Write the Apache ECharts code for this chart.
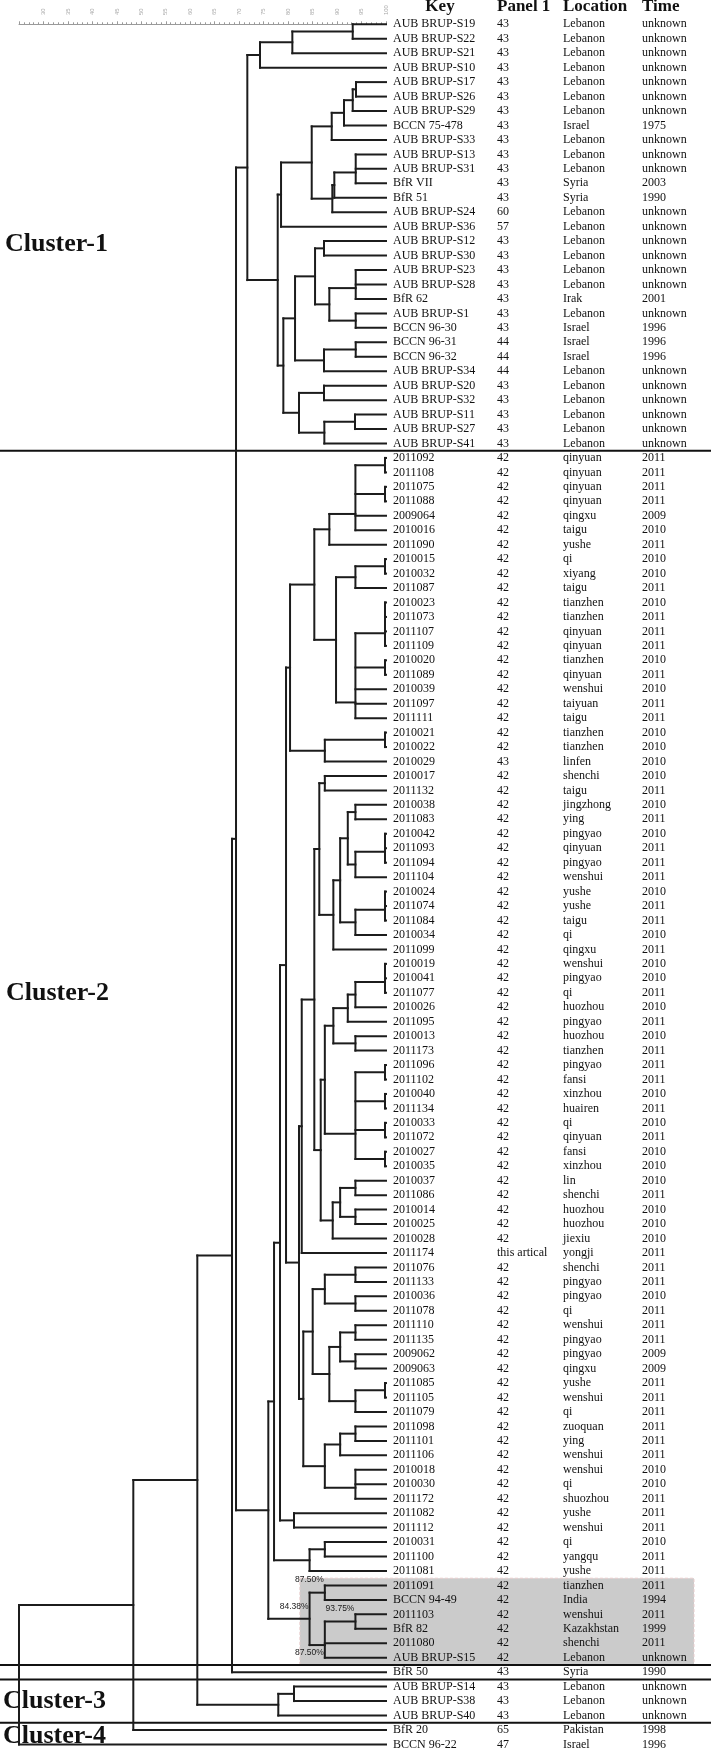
<!DOCTYPE html>
<html><head><meta charset="utf-8">
<script src="https://cdn.jsdelivr.net/npm/echarts@6/dist/echarts.min.js"></script>
<style>html,body{margin:0;padding:0;background:#fff}#c{width:711px;height:1749px}</style>
</head><body><div id="c"></div>
<script>
// ---------------- DATA ----------------
const keys = ['AUB BRUP-S19','AUB BRUP-S22','AUB BRUP-S21','AUB BRUP-S10','AUB BRUP-S17','AUB BRUP-S26','AUB BRUP-S29','BCCN 75-478','AUB BRUP-S33','AUB BRUP-S13',
'AUB BRUP-S31','BfR VII','BfR 51','AUB BRUP-S24','AUB BRUP-S36','AUB BRUP-S12','AUB BRUP-S30','AUB BRUP-S23','AUB BRUP-S28','BfR 62',
'AUB BRUP-S1','BCCN 96-30','BCCN 96-31','BCCN 96-32','AUB BRUP-S34','AUB BRUP-S20','AUB BRUP-S32','AUB BRUP-S11','AUB BRUP-S27','AUB BRUP-S41',
'2011092','2011108','2011075','2011088','2009064','2010016','2011090','2010015','2010032','2011087',
'2010023','2011073','2011107','2011109','2010020','2011089','2010039','2011097','2011111','2010021',
'2010022','2010029','2010017','2011132','2010038','2011083','2010042','2011093','2011094','2011104',
'2010024','2011074','2011084','2010034','2011099','2010019','2010041','2011077','2010026','2011095',
'2010013','2011173','2011096','2011102','2010040','2011134','2010033','2011072','2010027','2010035',
'2010037','2011086','2010014','2010025','2010028','2011174','2011076','2011133','2010036','2011078',
'2011110','2011135','2009062','2009063','2011085','2011105','2011079','2011098','2011101','2011106',
'2010018','2010030','2011172','2011082','2011112','2010031','2011100','2011081','2011091','BCCN 94-49',
'2011103','BfR 82','2011080','AUB BRUP-S15','BfR 50','AUB BRUP-S14','AUB BRUP-S38','AUB BRUP-S40','BfR 20','BCCN 96-22'];

const panel1 = ['43','43','43','43','43','43','43','43','43','43',
'43','43','43','60','57','43','43','43','43','43',
'43','43','44','44','44','43','43','43','43','43',
'42','42','42','42','42','42','42','42','42','42',
'42','42','42','42','42','42','42','42','42','42',
'42','43','42','42','42','42','42','42','42','42',
'42','42','42','42','42','42','42','42','42','42',
'42','42','42','42','42','42','42','42','42','42',
'42','42','42','42','42','this artical','42','42','42','42',
'42','42','42','42','42','42','42','42','42','42',
'42','42','42','42','42','42','42','42','42','42',
'42','42','42','42','43','43','43','43','65','47'];

const locations = ['Lebanon','Lebanon','Lebanon','Lebanon','Lebanon','Lebanon','Lebanon','Israel','Lebanon','Lebanon',
'Lebanon','Syria','Syria','Lebanon','Lebanon','Lebanon','Lebanon','Lebanon','Lebanon','Irak',
'Lebanon','Israel','Israel','Israel','Lebanon','Lebanon','Lebanon','Lebanon','Lebanon','Lebanon',
'qinyuan','qinyuan','qinyuan','qinyuan','qingxu','taigu','yushe','qi','xiyang','taigu',
'tianzhen','tianzhen','qinyuan','qinyuan','tianzhen','qinyuan','wenshui','taiyuan','taigu','tianzhen',
'tianzhen','linfen','shenchi','taigu','jingzhong','ying','pingyao','qinyuan','pingyao','wenshui',
'yushe','yushe','taigu','qi','qingxu','wenshui','pingyao','qi','huozhou','pingyao',
'huozhou','tianzhen','pingyao','fansi','xinzhou','huairen','qi','qinyuan','fansi','xinzhou',
'lin','shenchi','huozhou','huozhou','jiexiu','yongji','shenchi','pingyao','pingyao','qi',
'wenshui','pingyao','pingyao','qingxu','yushe','wenshui','qi','zuoquan','ying','wenshui',
'wenshui','qi','shuozhou','yushe','wenshui','qi','yangqu','yushe','tianzhen','India',
'wenshui','Kazakhstan','shenchi','Lebanon','Syria','Lebanon','Lebanon','Lebanon','Pakistan','Israel'];

const times = ['unknown','unknown','unknown','unknown','unknown','unknown','unknown','1975','unknown','unknown',
'unknown','2003','1990','unknown','unknown','unknown','unknown','unknown','unknown','2001',
'unknown','1996','1996','1996','unknown','unknown','unknown','unknown','unknown','unknown',
'2011','2011','2011','2011','2009','2010','2011','2010','2010','2011',
'2010','2011','2011','2011','2010','2011','2010','2011','2011','2010',
'2010','2010','2010','2011','2010','2011','2010','2011','2011','2011',
'2010','2011','2011','2010','2011','2010','2010','2011','2010','2011',
'2010','2011','2011','2011','2010','2011','2010','2011','2010','2010',
'2010','2011','2010','2010','2010','2011','2011','2011','2010','2011',
'2011','2011','2009','2009','2011','2011','2011','2011','2011','2011',
'2010','2010','2011','2011','2011','2010','2011','2011','2011','1994',
'2011','1999','2011','unknown','1990','unknown','unknown','unknown','1998','1996'];

// dendrogram merges: [node id, similarity %, children (leaf row index or node id)]
const merges = [
 ['a',93.2,[0,1]], ['b',80.86,['a',2]], ['c',74.25,['b',3]],
 ['d',93.87,[4,5]], ['e',93.2,['d',6]], ['f',91.42,['e',7]], ['g',88.91,['f',8]],
 ['h',93.81,[9,10,11]], ['i',89.44,['h',12]], ['j',89.03,['i',13]],
 ['k',84.82,['g','j']], ['l',78.55,['k',14]],
 ['n15',87.33,[15,16]], ['n17',93.81,[17,18,19]], ['n20',93.81,[20,21]],
 ['n329',88.42,['n17','n20']], ['n315',85.5,['n15','n329']],
 ['n22',93.81,[22,23]], ['n24',87.33,['n22',24]], ['n295',81.41,['n315','n24']],
 ['n25',87.33,[25,26]], ['n27',93.67,[27,28]], ['n29',87.4,['n27',29]],
 ['n299',82.22,['n25','n29']], ['X',79.02,['n295','n299']],
 ['m',77.87,['l','X']], ['N1',71.66,['c','m']],
 ['p30',99.8,[30,31]], ['p32',99.8,[32,33]], ['p34',93.75,['p30','p32',34,35]],
 ['A2',88.42,['p34',36]], ['p37',99.8,[37,38]], ['p39',93.75,['p37',39]],
 ['p40',99.8,[40,41,42,43]], ['p44',99.8,[44,45]], ['p46',93.75,['p40','p44',46,47,48]],
 ['p336',89.79,['p39','p46']], ['p314',85.35,['A2','p336']],
 ['p49',99.8,[49,50]], ['p51',87.5,['p49',51]], ['Z',80.39,['p314','p51']],
 ['q52',87.5,[52,53]], ['q54',93.75,[54,55]], ['q56',99.8,[56,57,58]], ['q59',93.75,['q56',59]],
 ['q443',92.19,['q54','q59']], ['q60',99.8,[60,61,62]], ['q63',93.75,['q60',63]],
 ['q420',90.63,['q443','q63']], ['q400',89.24,['q420',64]], ['q358',86.37,['q52','q400']],
 ['s65',99.8,[65,66,67]], ['s68',93.75,['s65',68]], ['s69',92.19,['s68',69]],
 ['s70',93.75,[70,71]], ['s400',89.24,['s69','s70']],
 ['s72',99.8,[72,73]], ['s74',99.8,[74,75]], ['s76',99.8,[76,77]], ['s78',99.8,[78,79]],
 ['s465',93.75,['s72','s74','s76','s78']], ['s373',87.5,['s400','s465']],
 ['s80',93.75,[80,81]], ['s82',93.75,[82,83]], ['s420',90.63,['s80','s82']],
 ['s398',89.11,['s420',84]], ['s362',86.66,['s373','s398']],
 ['t343',85.35,['q358','s362']], ['t305',82.78,['t343',85]],
 ['u86',93.75,[86,87]], ['u88',93.75,[88,89]], ['u373',87.5,['u86','u88']],
 ['u90',93.75,[90,91]], ['u92',93.75,[92,93]], ['u420',90.63,['u90','u92']],
 ['u94',99.8,[94,95]], ['u96',93.75,['u94',96]], ['u388',88.42,['u420','u96']],
 ['u338',85.02,['u373','u388']], ['u97',93.75,[97,98]], ['u99',90.63,['u97',99]],
 ['u100',93.75,[100,101,102]], ['u373b',87.5,['u99','u100']], ['u310',83.1,['u338','u373b']],
 ['AA',82.22,['t305','u310']], ['Y',79.57,['Z','AA']],
 ['w103',81.2,[103,104]], ['W',78.34,['Y','w103']],
 ['x105',87.5,[105,106]], ['X3',84.38,['x105',107]], ['V',77.12,['W','X3']],
 ['h108',87.5,[108,109]], ['h110',93.75,[110,111]], ['h112',87.5,['h110',112,113]],
 ['HL',84.38,['h108','h112']], ['U',75.95,['V','HL']],
 ['T',69.35,['N1','U']], ['S',68.53,['T',114]],
 ['c115',81.2,[115,116]], ['C3',77.99,['c115',117]],
 ['R',61.44,['S','C3']], ['Q',48.36,['R',118]], ['root',25,['Q',119]]
];

const nodeLabels = [['h108','87.50%'],['HL','84.38%'],['h110','93.75%'],['h112','87.50%']];
const clusterRows = [[0,29],[30,113],[114,114],[115,117],[118,119]];
const clusterNames = ['Cluster-1','Cluster-2','Cluster-3','Cluster-4'];
const highlightRows = [108,113];
const headers = ['Key','Panel 1','Location','Time'];

// ---------------- BUILD ----------------
// label placement style: anchor & pixel offset
const labelStyle = {h108:['top',-1], HL:['mid',-8], h110:['top',-1], h112:['bottom',-1]};
const pos = {};
const segs = [];
function getPos(k){ return typeof k === 'number' ? {x:100, y:k, top:k, bot:k} : pos[k]; }
merges.forEach(([id, sim, kids]) => {
  const ch = kids.map(getPos);
  ch.forEach(c => segs.push([sim, c.y, c.x, c.y]));
  const ys = ch.map(c => c.y);
  let mid = ys[0];
  for (let i = 1; i < ys.length; i++) mid = (mid + ys[i]) / 2;
  const top = Math.min(...ys), bot = Math.max(...ys);
  segs.push([sim, top, sim, bot]);
  pos[id] = {x: sim, y: mid, top, bot};
});
const labelData = nodeLabels.map(([id, txt], i) => {
  const p = pos[id]; const st = labelStyle[id];
  const yy = st[0] === 'top' ? p.top : st[0] === 'bottom' ? p.bot : p.y;
  return [p.x, yy, i];
});
const rows = keys.map((k, i) => [100, i]);
const boundaries = [];
for (let i = 1; i < clusterRows.length; i++) boundaries.push([25, (clusterRows[i-1][1] + clusterRows[i][0]) / 2]);

const SERIF = '"Liberation Serif","Times New Roman",serif';
const chart = echarts.init(document.getElementById('c'));

const option = {
  animation: false,
  backgroundColor: '#ffffff',
  grid: {left: 19, width: 367, top: 17.07, height: 1727.37},
  xAxis: {
    type: 'value', position: 'top', min: 25, max: 100, interval: 5,
    axisLine: {show: true, lineStyle: {color: '#9a9a9a', width: 1}},
    axisTick: {show: true, length: 3, lineStyle: {color: '#9a9a9a'}},
    minorTick: {show: true, splitNumber: 5, length: 2, lineStyle: {color: '#9a9a9a'}},
    axisLabel: {rotate: 90, fontSize: 6, color: '#aaaaaa', margin: 2,
      formatter: v => (v === 25 ? '' : String(v))},
    splitLine: {show: false}
  },
  yAxis: {type: 'value', inverse: true, min: -0.5, max: 119, show: false},
  series: [
    { // highlight box
      type: 'custom', clip: false, z: 1,
      data: [[82.4, highlightRows[0] - 0.5, highlightRows[1] + 0.5]],
      encode: {x: 0, y: [1, 2]},
      renderItem: (params, api) => {
        const p1 = api.coord([api.value(0), api.value(1)]);
        const p2 = api.coord([api.value(0), api.value(2)]);
        return {type: 'rect', shape: {x: p1[0], y: p1[1], width: 694 - p1[0], height: p2[1] - p1[1]},
          style: {fill: '#cbcbcb', stroke: '#e9cccc', lineWidth: 1, lineDash: [3, 2]}};
      }
    },
    { // separators
      type: 'custom', clip: false, z: 2,
      data: boundaries,
      encode: {x: 0, y: 1},
      renderItem: (params, api) => {
        const p = api.coord([api.value(0), api.value(1)]);
        return {type: 'line', shape: {x1: 0, y1: p[1], x2: api.getWidth(), y2: p[1]},
          style: {stroke: '#111', lineWidth: 2}};
      }
    },
    { // dendrogram
      type: 'custom', clip: false, z: 3,
      data: segs,
      encode: {x: [0, 2], y: [1, 3]},
      renderItem: (params, api) => {
        const p1 = api.coord([api.value(0), api.value(1)]);
        const p2 = api.coord([api.value(2), api.value(3)]);
        return {type: 'line', shape: {x1: p1[0], y1: p1[1], x2: p2[0], y2: p2[1]},
          style: {stroke: '#1c1c1c', lineWidth: 2, lineCap: 'square'}};
      }
    },
    { // node labels
      type: 'custom', clip: false, z: 4,
      data: labelData,
      encode: {x: 0, y: 1},
      renderItem: (params, api) => {
        const p = api.coord([api.value(0), api.value(1)]);
        const idx = api.value(2);
        const id = nodeLabels[idx][0];
        return {type: 'text', x: p[0] - 1, y: p[1] + labelStyle[id][1],
          style: {text: nodeLabels[idx][1], fill: '#1a1a1a', font: '8.5px "Liberation Sans",Arial,sans-serif',
            align: 'right', verticalAlign: 'bottom'}};
      }
    },
    { // table text
      type: 'custom', clip: false, z: 4,
      data: rows,
      encode: {x: 0, y: 1},
      renderItem: (params, api) => {
        const i = api.value(1);
        const p = api.coord([api.value(0), i]);
        const y = p[1];
        const f = '12px ' + SERIF;
        const mk = (x, t) => ({type: 'text', x: x, y: y,
          style: {text: t, fill: '#111', font: f, align: 'left', verticalAlign: 'middle'}});
        return {type: 'group', children: [
          mk(p[0] + 7, keys[i]), mk(497, panel1[i]), mk(563, locations[i]), mk(642, times[i])
        ]};
      }
    }
  ],
  graphic: [
    {type: 'text', x: 440, y: 6.5, style: {text: headers[0], font: 'bold 17px ' + SERIF, fill: '#111', align: 'center', verticalAlign: 'middle'}},
    {type: 'text', x: 497, y: 6.5, style: {text: headers[1], font: 'bold 17px ' + SERIF, fill: '#111', align: 'left', verticalAlign: 'middle'}},
    {type: 'text', x: 563, y: 6.5, style: {text: headers[2], font: 'bold 17px ' + SERIF, fill: '#111', align: 'left', verticalAlign: 'middle'}},
    {type: 'text', x: 642, y: 6.5, style: {text: headers[3], font: 'bold 17px ' + SERIF, fill: '#111', align: 'left', verticalAlign: 'middle'}},
    {type: 'text', x: 5, y: 244.5, z: 0, style: {text: clusterNames[0], font: 'bold 26px ' + SERIF, fill: '#111', verticalAlign: 'middle'}},
    {type: 'text', x: 6, y: 993.5, z: 0, style: {text: clusterNames[1], font: 'bold 26px ' + SERIF, fill: '#111', verticalAlign: 'middle'}},
    {type: 'text', x: 3, y: 1701.5, z: 0, style: {text: clusterNames[2], font: 'bold 26px ' + SERIF, fill: '#111', verticalAlign: 'middle'}},
    {type: 'text', x: 3, y: 1736.5, z: 0, style: {text: clusterNames[3], font: 'bold 26px ' + SERIF, fill: '#111', verticalAlign: 'middle'}}
  ]
};
chart.setOption(option);
</script>
</body></html>
